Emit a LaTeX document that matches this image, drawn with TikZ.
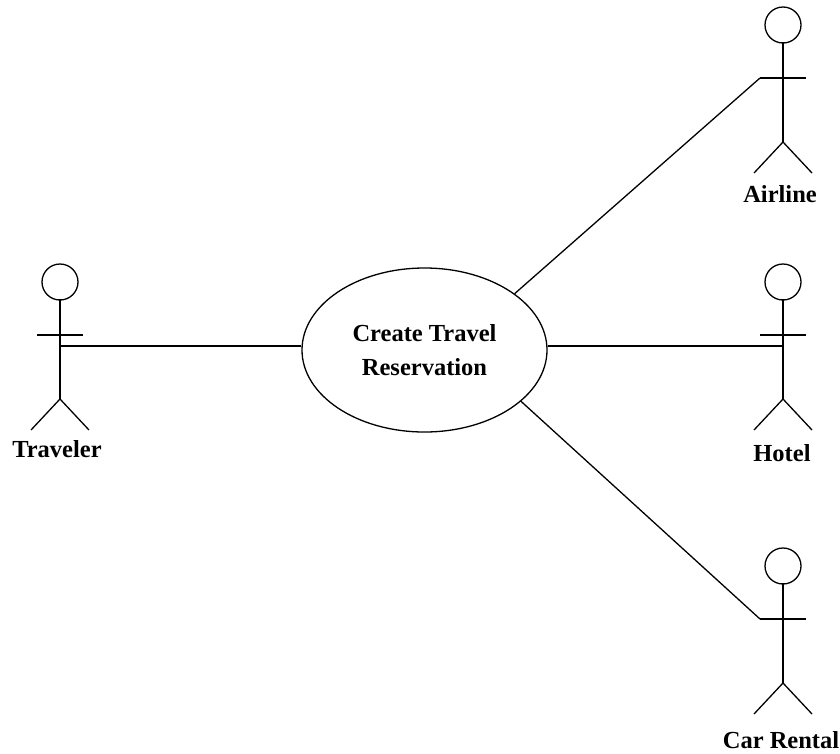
\documentclass[tikz,border=0pt]{standalone}
\usepackage{fontspec}
\setmainfont{Liberation Serif}
\usetikzlibrary{shapes.geometric}
\begin{document}
\begin{tikzpicture}[x=1pt,y=-1pt,line width=1.3pt,
  lbl/.style={font=\fontsize{24.5}{28}\selectfont\bfseries, anchor=base, inner sep=0pt},
  usecase/.style={ellipse, draw, minimum width=245pt, minimum height=164pt, inner sep=0pt, align=center, font=\fontsize{24.5}{34}\selectfont\bfseries},
  actor/.pic={
    \draw (0,-17) circle[radius=18];
    \draw (0,0) -- (0,100);
    \draw (-23,36) -- (23,36);
    \draw (0,100) -- (-29,131);
    \draw (0,100) -- (29,131);
    \coordinate (-join) at (-23,36);
    \coordinate (-hand) at (0,47);
  }]
\useasboundingbox[fill=white] (0,0) rectangle (840,753);

\pic (trav) at (60,299) {actor};
\pic (air) at (783,42) {actor};
\pic (hotel) at (783,299) {actor};
\pic (car) at (783,583) {actor};

\node[lbl] (travl) at (57,457) {Traveler};
\node[lbl] (airl) at (780,202) {Airline};
\node[lbl] (hotell) at (782,461) {Hotel};
\node[lbl] (carl) at (781,748) {Car Rental};

\node[usecase] (uc) at (424.5,350) {Create Travel\\Reservation};

\draw (trav-hand) -- (trav-hand -| uc.west);
\draw (uc.32) -- (air-join);
\draw (hotel-hand -| uc.east) -- (hotel-hand);
\draw (uc.-28) -- (car-join);
\end{tikzpicture}
\end{document}
